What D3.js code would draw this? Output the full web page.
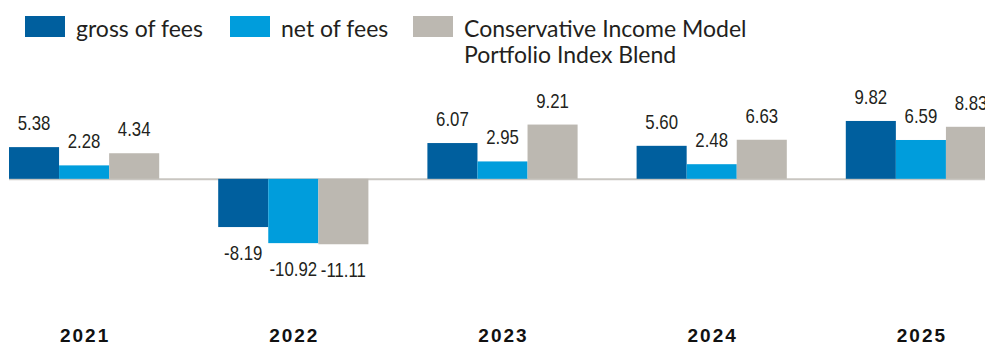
<!DOCTYPE html>
<html>
<head>
<meta charset="utf-8">
<script src="https://cdn.jsdelivr.net/npm/d3@7"></script>
<style>
  html, body { margin: 0; padding: 0; background: #fff; }
  svg { display: block; }
</style>
</head>
<body>
<svg id="chart" width="985" height="345"></svg>
<script>
// Calendar-year returns (%)
const years = ["2021", "2022", "2023", "2024", "2025"];
const seriesNames = ["gross of fees", "net of fees", "Conservative Income Model Portfolio Index Blend"];
const grossOfFees = [5.38, -8.19, 6.07, 5.60, 9.82];
const netOfFees = [2.28, -10.92, 2.95, 2.48, 6.59];
const indexBlend = [4.34, -11.11, 9.21, 6.63, 8.83];
const colors = ["#005f9e", "#009ddc", "#bcb8b1"];

const seriesValues = [grossOfFees, netOfFees, indexBlend];
const data = years.map((yr, i) => ({
  year: yr,
  values: seriesNames.map((s, k) => ({ key: s, value: seriesValues[k][i] }))
}));

const svg = d3.select("#chart");
const textColor = "#231f20";

const x0 = d3.scaleBand().domain(years).range([9, 996]).paddingInner(0.282).paddingOuter(0);
const x1 = d3.scaleBand().domain(seriesNames).range([0, x0.bandwidth()]).padding(0);
const y = d3.scaleLinear().domain([-12, 10]).range([249.5, 119.9]);

// zero line
svg.append("line")
  .attr("x1", 9).attr("x2", 985)
  .attr("y1", y(0) + 0.5).attr("y2", y(0) + 0.5)
  .attr("stroke", "#c9c6c1").attr("stroke-width", 2);

const groups = svg.selectAll("g.year")
  .data(data).enter().append("g")
  .attr("class", "year")
  .attr("transform", d => `translate(${x0(d.year)},0)`);

groups.selectAll("rect")
  .data(d => d.values).enter().append("rect")
  .attr("x", d => x1(d.key))
  .attr("width", x1.bandwidth())
  .attr("y", d => y(Math.max(0, d.value)))
  .attr("height", d => Math.abs(y(d.value) - y(0)))
  .attr("fill", (d, i) => colors[i]);

// value labels, horizontally condensed
groups.selectAll("text.val")
  .data(d => d.values).enter().append("text")
  .attr("class", "val")
  .attr("transform", d => {
    const cx = x1(d.key) + x1.bandwidth() / 2;
    const cy = d.value >= 0 ? y(d.value) - 17 : y(d.value) + 33;
    return `translate(${cx},${cy}) scale(0.84,1)`;
  })
  .attr("text-anchor", "middle")
  .attr("font-family", "'Liberation Sans', Arial, sans-serif")
  .attr("font-size", 20)
  .attr("fill", textColor)
  .text(d => d.value.toFixed(2));

// year labels
svg.selectAll("text.yr")
  .data(years).enter().append("text")
  .attr("class", "yr")
  .attr("x", d => x0(d) + x0.bandwidth() / 2 + 1)
  .attr("y", 342)
  .attr("text-anchor", "middle")
  .attr("font-family", "'Liberation Sans', Arial, sans-serif")
  .attr("font-weight", "bold")
  .attr("font-size", 19)
  .attr("letter-spacing", 2)
  .attr("fill", "#111")
  .text(d => d);

// legend
const legendItems = [
  { lines: ["gross of fees"], x: 25 },
  { lines: ["net of fees"], x: 230 },
  { lines: ["Conservative Income Model", "Portfolio Index Blend"], x: 413 }
];
const legend = svg.selectAll("g.legend")
  .data(legendItems).enter().append("g")
  .attr("class", "legend")
  .attr("transform", d => `translate(${d.x},0)`);
legend.append("rect")
  .attr("x", 0).attr("y", 16)
  .attr("width", 40).attr("height", 21)
  .attr("fill", (d, i) => colors[i]);
legend.append("text")
  .attr("font-family", "Lato, 'Noto Sans', sans-serif")
  .attr("font-size", 23)
  .attr("fill", textColor)
  .selectAll("tspan")
  .data(d => d.lines).enter().append("tspan")
  .attr("x", 51)
  .attr("y", (d, i) => 37 + i * 26)
  .text(d => d);
</script>
</body>
</html>
